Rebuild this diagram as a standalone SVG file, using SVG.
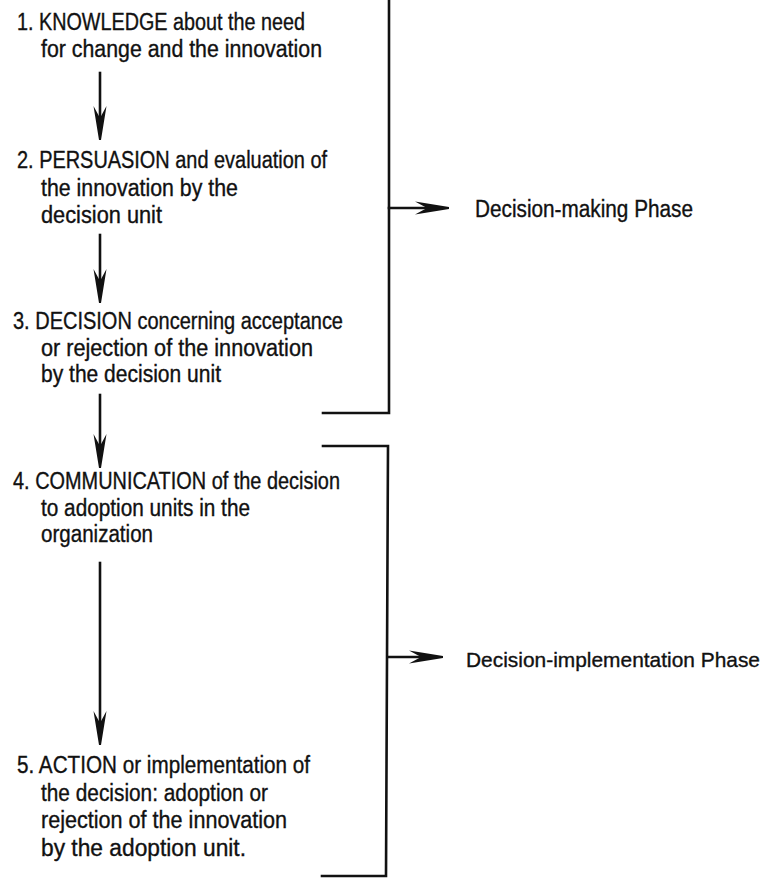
<svg xmlns="http://www.w3.org/2000/svg" width="774" height="878" viewBox="0 0 774 878">
<style>
text{font-family:"Liberation Sans",Arial,sans-serif;font-size:23px;fill:#111;stroke:#111;stroke-width:0.35}
text.sm{font-size:21px}
.ln{stroke:#111;stroke-width:2.6;fill:none;stroke-linecap:square}
.hd{fill:#111;stroke:none}
</style>
<defs>
<path id="dh" class="hd" d="M-6.5,-34 L0,-22 L6.5,-34 L1,0 L-1,0 Z"/>
<path id="rh" class="hd" d="M-34,-6.5 L-22,0 L-34,6.5 L0,1 L0,-1 Z"/>
</defs>
<rect width="774" height="878" fill="#fff"/>
<g id="n1">
<text x="17" y="30" textLength="288" lengthAdjust="spacingAndGlyphs">1. KNOWLEDGE about the need</text>
<text x="41" y="57" textLength="281" lengthAdjust="spacingAndGlyphs">for change and the innovation</text>
</g>
<g id="n2">
<text x="17" y="168" textLength="310" lengthAdjust="spacingAndGlyphs">2. PERSUASION and evaluation of</text>
<text x="41" y="196" textLength="197" lengthAdjust="spacingAndGlyphs">the innovation by the</text>
<text x="41" y="223" textLength="121" lengthAdjust="spacingAndGlyphs">decision unit</text>
</g>
<g id="n3">
<text x="13" y="329" textLength="330" lengthAdjust="spacingAndGlyphs">3. DECISION concerning acceptance</text>
<text x="41" y="356" textLength="272" lengthAdjust="spacingAndGlyphs">or rejection of the innovation</text>
<text x="41" y="382" textLength="180" lengthAdjust="spacingAndGlyphs">by the decision unit</text>
</g>
<g id="n4">
<text x="13" y="489" textLength="327" lengthAdjust="spacingAndGlyphs">4. COMMUNICATION of the decision</text>
<text x="41" y="516" textLength="209" lengthAdjust="spacingAndGlyphs">to adoption units in the</text>
<text x="41" y="542" textLength="112" lengthAdjust="spacingAndGlyphs">organization</text>
</g>
<g id="n5">
<text x="17" y="773" textLength="293" lengthAdjust="spacingAndGlyphs">5. ACTION or implementation of</text>
<text x="41" y="801" textLength="227" lengthAdjust="spacingAndGlyphs">the decision: adoption or</text>
<text x="41" y="828" textLength="246" lengthAdjust="spacingAndGlyphs">rejection of the innovation</text>
<text x="41" y="856" textLength="205" lengthAdjust="spacingAndGlyphs">by the adoption unit.</text>
</g>
<g id="p1">
<text x="475" y="217" textLength="218" lengthAdjust="spacingAndGlyphs">Decision-making Phase</text>
</g>
<g id="p2">
<text class="sm" x="466" y="667" textLength="294" lengthAdjust="spacingAndGlyphs">Decision-implementation Phase</text>
</g>
<g id="connectors">
<path class="ln" d="M100,73 V130"/>
<use href="#dh" x="100" y="140"/>
<path class="ln" d="M100,235 V293"/>
<use href="#dh" x="100" y="303"/>
<path class="ln" d="M100,395 V458"/>
<use href="#dh" x="100" y="468"/>
<path class="ln" d="M100,563 V735"/>
<use href="#dh" x="100" y="745"/>
<path class="ln" d="M389,-2 V413 H323"/>
<path class="ln" d="M323,446 H388 L386,876 H322"/>
<path class="ln" d="M389,208 H440"/>
<use href="#rh" x="449" y="208"/>
<path class="ln" d="M388,657 H434"/>
<use href="#rh" x="443" y="657"/>
</g>
</svg>
